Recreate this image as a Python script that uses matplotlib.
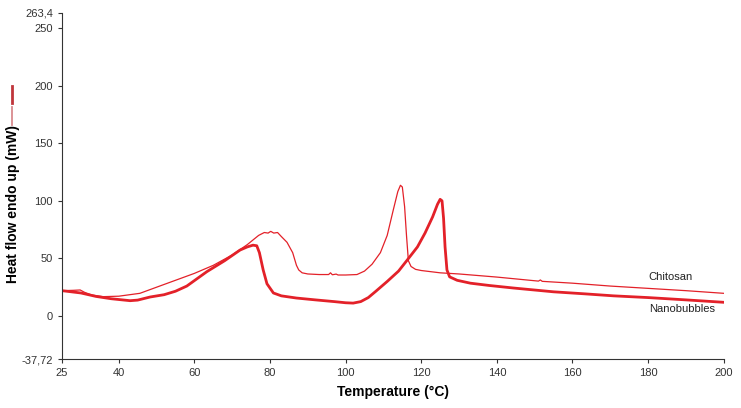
import matplotlib
matplotlib.use("Agg")
import matplotlib.pyplot as plt
from matplotlib.lines import Line2D

plt.rcParams['font.family'] = ['Liberation Sans', 'DejaVu Sans']

# DSC traces (temperature in C, heat flow in mW)
chitosan_t = [25, 28, 29.8, 31, 32.9, 35.9, 40, 45.6, 50, 55, 60, 65, 70, 74, 77,
              78.5, 79.5, 80.2, 81, 82, 83, 84.5, 86, 87, 87.6, 88.5, 90, 93, 95.5,
              96, 96.5, 97.5, 98, 100, 103, 105, 107, 109.2, 111, 112.6, 113.8,
              114.5, 115, 115.6, 116.1, 116.6, 117.3, 118.5, 120, 125, 130, 140,
              151, 151.5, 152, 160, 170, 180, 190, 200]
chitosan_h = [22, 22.3, 22.6, 20.5, 18.2, 16.8, 17.2, 19.7, 25, 31, 37, 44, 53, 62, 70,
              72.5, 72, 73.5, 72, 72.5, 69, 64, 55, 44, 40, 37.5, 36.5, 36, 36,
              37.5, 35.8, 36.4, 35.6, 35.6, 36, 39, 45, 55, 70, 92, 108,
              113.5, 112, 95, 70, 48, 43, 40.5, 39.5, 37.5, 36.5, 33.8,
              30.3, 31.3, 30.1, 28.5, 26, 24, 22, 19.7]

nano_t = [25, 30, 34, 38, 43, 45, 48.3, 52, 55, 58, 63.3, 68, 72.1, 74, 75.5, 76.5,
          77.2, 78.2, 79.2, 80.9, 83, 87, 92, 97, 100, 102, 104, 106, 108, 111, 114,
          116.3, 119, 121, 123, 124.3, 125, 125.5, 125.9, 126.3, 126.8, 127.5,
          129.5, 133, 138, 144.4, 155, 163, 170.9, 180, 190, 200]
nano_h = [22, 20, 17, 15, 13.3, 13.8, 16.5, 18.5, 21.5, 26, 38.5, 48, 57.3, 60, 61.5, 61,
          55, 40, 28, 20, 17.5, 15.6, 14, 12.5, 11.5, 11.2, 12.5, 16, 21.5, 30, 39,
          48.6, 60, 72, 86, 97, 101.3, 100, 85, 60, 40, 34,
          31, 28.5, 26.5, 24.3, 21, 19.3, 17.5, 16, 14, 11.9]

x_ticks = [25, 40, 60, 80, 100, 120, 140, 160, 180, 200]
y_ticks = [-37.72, 0, 50, 100, 150, 200, 250, 263.4]
y_labels = ['-37,72', '0', '50', '100', '150', '200', '250', '263,4']

red = '#e32129'

fig = plt.figure(figsize=(7.41, 4.08), dpi=100)
ax = fig.add_axes([0.0837, 0.119, 0.893, 0.850])

ax.plot(chitosan_t, chitosan_h, color=red, lw=0.9)
ax.plot(nano_t, nano_h, color=red, lw=2.0)

ax.text(186, 34, 'Chitosan', fontsize=8, color='#222222', ha='center', va='center')
ax.text(189, 6, 'Nanobubbles', fontsize=8, color='#222222', ha='center', va='center')

ax.set_xlim(25, 200)
ax.set_ylim(-37.72, 263.4)
ax.set_xticks(x_ticks)
ax.set_yticks(y_ticks)
ax.set_yticklabels(y_labels)
ax.tick_params(labelsize=8, colors='#333333', length=3, width=0.8)
for s in ['top', 'right']:
    ax.spines[s].set_visible(False)
for s in ['left', 'bottom']:
    ax.spines[s].set_linewidth(0.8)
    ax.spines[s].set_color('#333333')

ax.set_xlabel('Temperature (\u00b0C)', fontsize=10, fontweight='bold', labelpad=5)
fig.text(13 / 741, 1 - 204 / 408, 'Heat flow endo up (mW)', fontsize=10,
         fontweight='bold', rotation=90, ha='center', va='center')

# little vertical line keys beside the y label
fig.add_artist(Line2D([12 / 741, 12 / 741], [1 - 86 / 408, 1 - 103 / 408],
                      color='#c0353b', lw=2.0))
fig.add_artist(Line2D([12 / 741, 12 / 741], [1 - 107 / 408, 1 - 125 / 408],
                      color='#d98a8e', lw=1.3))

fig.savefig('out.png', dpi=100)
